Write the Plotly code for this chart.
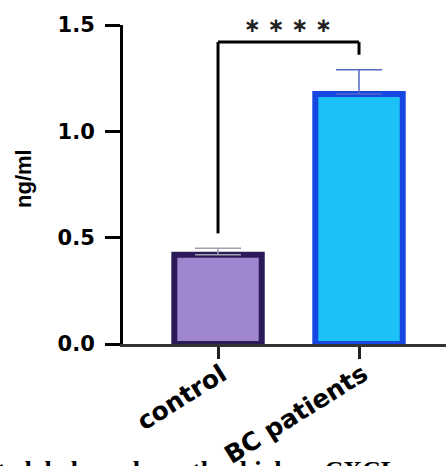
import plotly.graph_objects as go

categories = ["control", "BC patients"]
means = [0.42, 1.175]
errors = [0.03, 0.115]
y_ticks = [0.0, 0.5, 1.0, 1.5]
y_ticklabels = ["0.0", "0.5", "1.0", "1.5"]
fill_colors = ["#A086CE", "#1CC2F7"]
edge_colors = ["#2B1A58", "#1747E3"]
err_colors = ["#A0A0AC", "#5468C4"]

W, H = 446, 466
L, R, T, B = 123, 0, 25, 122

fig = go.Figure()
for i, c in enumerate(categories):
    fig.add_trace(go.Bar(
        x=[c], y=[means[i]], width=0.62,
        marker=dict(color=fill_colors[i], line=dict(color=edge_colors[i], width=6)),
        error_y=dict(type="data", array=[errors[i]], arrayminus=[0], symmetric=False,
                     color=err_colors[i], thickness=1.5, width=23),
        showlegend=False,
    ))

# significance bracket
fig.add_shape(type="line", x0=0, x1=0, y0=0.52, y1=1.42, xref="x", yref="y",
              line=dict(color="black", width=3))
fig.add_shape(type="line", x0=0, x1=1, y0=1.42, y1=1.42, xref="x", yref="y",
              line=dict(color="black", width=3))
fig.add_shape(type="line", x0=1, x1=1, y0=1.42, y1=1.36, xref="x", yref="y",
              line=dict(color="black", width=3))
fig.add_annotation(x=(288 - L) / (W - L - R), y=1.0, xref="paper", yref="paper",
                   text="∗ ∗ ∗ ∗", showarrow=False,
                   font=dict(family="DejaVu Sans", size=20, color="#222", weight="bold"),
                   xanchor="center", yanchor="middle")

# y axis title
fig.add_annotation(x=(23 - L) / (W - L - R), y=(344 - 179) / 319, xref="paper", yref="paper",
                   xanchor="center", yanchor="middle",
                   text="<b>ng/ml</b>", textangle=-90, showarrow=False,
                   font=dict(family="Liberation Sans", size=22, color="black"))

# cropped caption at bottom
fig.add_annotation(x=-0.395, y=-0.345, xref="paper", yref="paper", xanchor="left", yanchor="top",
                   text="<b>ted  below  show  the  higher  CXCL</b>", showarrow=False,
                   font=dict(family="Liberation Serif", size=26, color="black"))

fig.update_layout(
    width=W, height=H, margin=dict(l=L, r=R, t=T, b=B, autoexpand=False),
    plot_bgcolor="white", paper_bgcolor="white",
)
fig.update_xaxes(
    range=[-0.674, 1.617], showline=True, linecolor="#333", linewidth=3,
    ticks="outside", ticklen=12, tickwidth=3, tickcolor="#222",
    tickangle=-32, ticklabelstandoff=-9, ticklabelshift=4,
    tickfont=dict(family="DejaVu Sans", size=25, color="black", weight="bold"),
    showgrid=False, zeroline=False, automargin=False,
)
fig.update_yaxes(
    range=[0, 1.5], tickvals=y_ticks, ticktext=y_ticklabels,
    showline=True, linecolor="black", linewidth=3,
    ticks="outside", ticklen=15, tickwidth=3, tickcolor="black", ticklabelstandoff=6,
    tickfont=dict(family="DejaVu Sans", size=21, color="black", weight="bold"),
    showgrid=False, zeroline=False, automargin=False,
)

fig.write_html("out.html", config={"displayModeBar": False},
               post_script="document.body.style.margin='0';")
